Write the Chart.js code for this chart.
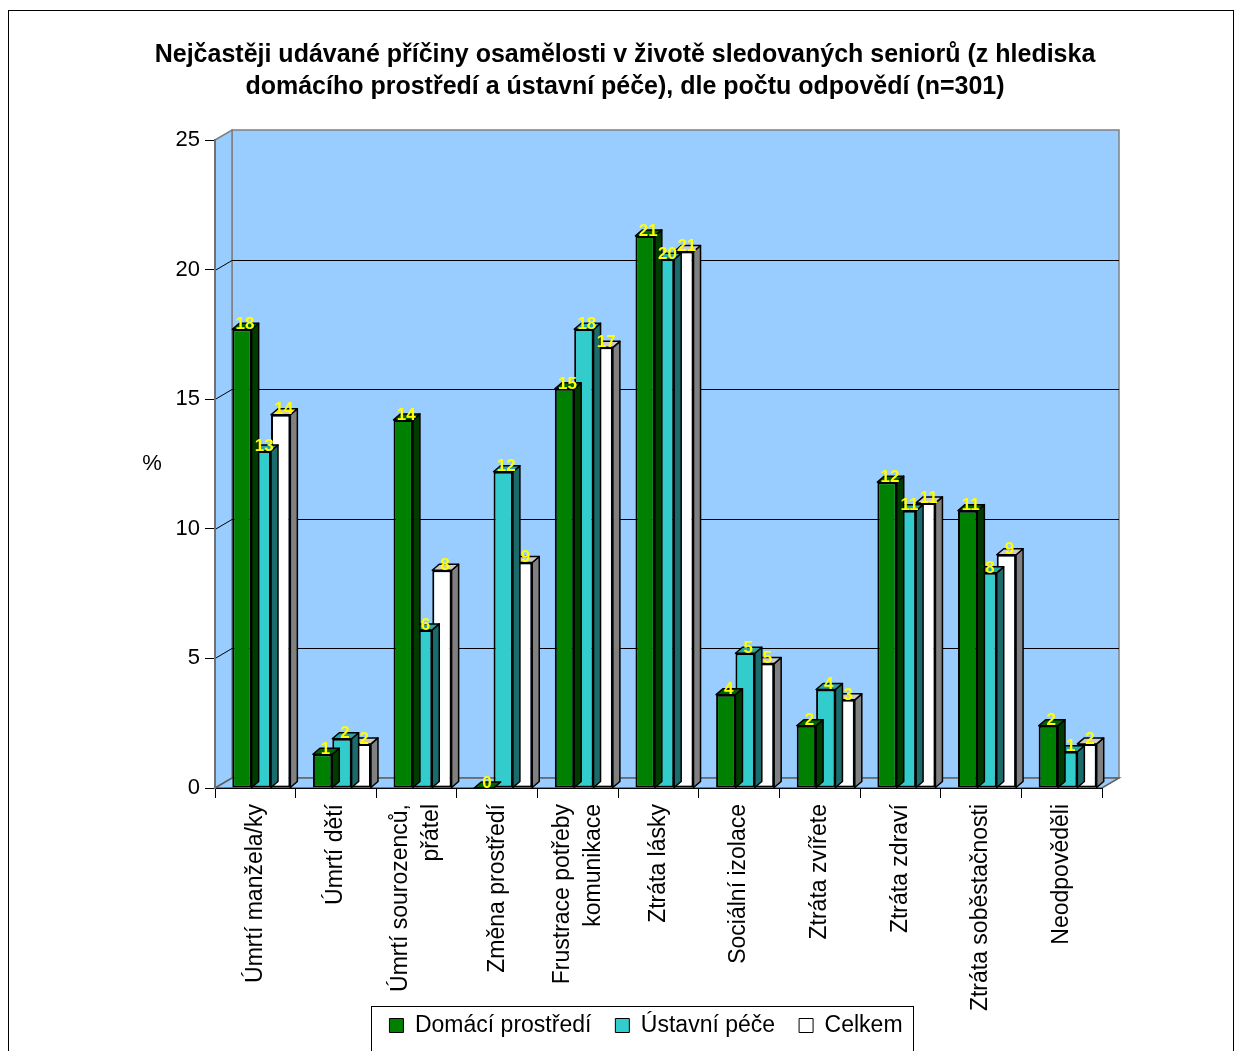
<!DOCTYPE html>
<html lang="cs">
<head>
<meta charset="utf-8">
<title>Příčiny osamělosti seniorů</title>
<script src="https://cdn.jsdelivr.net/npm/chart.js@4.4.1/dist/chart.umd.min.js"></script>
<style>
  html, body { margin: 0; padding: 0; background: #fff; overflow: hidden; }
  #wrap { width: 1236px; height: 1051px; }
</style>
</head>
<body>
<div id="wrap"><canvas id="chart"></canvas></div>
<script>
const categories = [
    'Úmrtí manžela/ky',
    'Úmrtí dětí',
    ['Úmrtí sourozenců,', 'přátel'],
    'Změna prostředí',
    ['Frustrace potřeby', 'komunikace'],
    'Ztráta lásky',
    'Sociální izolace',
    'Ztráta zvířete',
    'Ztráta zdraví',
    'Ztráta soběstačnosti',
    'Neodpověděli'
];
const domaci = [17.7, 1.3, 14.2, 0, 15.4, 21.3, 3.6, 2.4, 11.8, 10.7, 2.4];
const ustavni = [13.0, 1.9, 6.1, 12.2, 17.7, 20.4, 5.2, 3.8, 10.7, 8.3, 1.4];
const celkem = [14.4, 1.7, 8.4, 8.7, 17.0, 20.7, 4.8, 3.4, 11.0, 9.0, 1.7];
const seriesNames = ['Domácí prostředí', 'Ústavní péče', 'Celkem'];
const yMax = 25;
const yStep = 5;

const font = '"Liberation Sans", Arial, sans-serif';
const wallBlue = '#99ccff';
// front / top / side colours of the fake 3d bars
const faces = [
    { front: '#008000', top: '#006400', side: '#003c00' },
    { front: '#33cccc', top: '#29a3a3', side: '#1a6b6b' },
    { front: '#ffffff', top: '#cccccc', side: '#808080' }
];
const wall = { dx: 17, dy: -10 };
const box = { dx: 7, dy: -6 };

const frame3d = {
    id: 'frame3d',
    afterLayout(chart) {
        // legend sits a bit right of centre in the original
        chart.legend.left += 21;
        chart.legend.right += 21;
        // let the long rotated labels run down past the legend top
        chart.scales.x.bottom = chart.height;
    },
    afterDatasetsUpdate(chart) {
        // bars stand in the middle of the floor depth
        chart.data.datasets.forEach((ds, i) => {
            chart.getDatasetMeta(i).data.forEach(bar => { bar.x += 6; });
        });
    },
    beforeDraw(chart) {
        const { ctx, chartArea: a, scales: { y } } = chart;
        ctx.save();
        ctx.fillStyle = wallBlue;
        ctx.strokeStyle = '#808080';
        ctx.lineWidth = 1.5;
        // back wall
        ctx.fillRect(a.left + wall.dx, a.top + wall.dy, a.right - a.left, a.bottom - a.top);
        ctx.strokeRect(a.left + wall.dx, a.top + wall.dy, a.right - a.left, a.bottom - a.top);
        // side wall
        ctx.beginPath();
        ctx.moveTo(a.left, a.top);
        ctx.lineTo(a.left + wall.dx, a.top + wall.dy);
        ctx.lineTo(a.left + wall.dx, a.bottom + wall.dy);
        ctx.lineTo(a.left, a.bottom);
        ctx.closePath();
        ctx.fill();
        ctx.stroke();
        // floor
        ctx.beginPath();
        ctx.moveTo(a.left, a.bottom);
        ctx.lineTo(a.left + wall.dx, a.bottom + wall.dy);
        ctx.lineTo(a.right + wall.dx, a.bottom + wall.dy);
        ctx.lineTo(a.right, a.bottom);
        ctx.closePath();
        ctx.fill();
        ctx.strokeStyle = '#606060';
        ctx.stroke();
        // grid lines on the walls
        ctx.strokeStyle = '#000';
        ctx.lineWidth = 1;
        for (let v = yStep; v < yMax; v += yStep) {
            const py = Math.round(y.getPixelForValue(v)) + 0.5;
            ctx.beginPath();
            ctx.moveTo(a.left, py);
            ctx.lineTo(a.left + wall.dx, py + wall.dy);
            ctx.lineTo(a.right + wall.dx, py + wall.dy);
            ctx.stroke();
        }
        ctx.restore();

        // two-line category labels are centred on the category
        const xs = chart.scales.x;
        if (typeof xs._computeLabelItems === 'function') {
            const items = xs._computeLabelItems(a);
            items.forEach(it => {
                if (Array.isArray(it.label) && it.label.length > 1) {
                    it.options.translation[0] -= it.font.lineHeight * (it.label.length - 1) / 2;
                }
            });
            xs._labelItems = items;
        }
    },
    beforeDatasetDraw(chart, args) {
        const ctx = chart.ctx;
        const f = faces[args.index];
        ctx.save();
        ctx.strokeStyle = '#000';
        ctx.lineWidth = 1.5;
        ctx.lineJoin = 'round';
        args.meta.data.forEach(bar => {
            const { x, y, base, width } = bar.getProps(['x', 'y', 'base', 'width'], true);
            const l = x - width / 2, r = x + width / 2;
            ctx.beginPath();
            ctx.moveTo(r, y);
            ctx.lineTo(r + box.dx, y + box.dy);
            ctx.lineTo(r + box.dx, base + box.dy);
            ctx.lineTo(r, base);
            ctx.closePath();
            ctx.fillStyle = f.side;
            ctx.fill();
            ctx.stroke();
            ctx.beginPath();
            ctx.moveTo(l, y);
            ctx.lineTo(l + box.dx, y + box.dy);
            ctx.lineTo(r + box.dx, y + box.dy);
            ctx.lineTo(r, y);
            ctx.closePath();
            ctx.fillStyle = f.top;
            ctx.fill();
            ctx.stroke();
        });
        ctx.restore();
    },
    afterDatasetsDraw(chart) {
        const ctx = chart.ctx;
        ctx.save();
        ctx.font = 'bold 17px ' + font;
        ctx.fillStyle = '#ffff00';
        ctx.textAlign = 'center';
        ctx.textBaseline = 'middle';
        chart.data.datasets.forEach((ds, i) => {
            chart.getDatasetMeta(i).data.forEach((bar, j) => {
                ctx.fillText(String(Math.round(ds.data[j])), bar.x + 3, bar.y - 5);
            });
        });
        ctx.restore();
    },
    afterDraw(chart) {
        const { ctx, chartArea: a } = chart;
        ctx.save();
        // % axis name
        ctx.font = '22px ' + font;
        ctx.fillStyle = '#000';
        ctx.textAlign = 'center';
        ctx.textBaseline = 'middle';
        ctx.fillText('%', a.left - 63, (a.top + a.bottom) / 2);
        // legend frame
        const hb = chart.legend.legendHitBoxes;
        if (hb && hb.length) {
            const last = hb[hb.length - 1];
            const x0 = hb[0].left - 18;
            const x1 = last.left + last.width + 11;
            ctx.strokeStyle = '#000';
            ctx.lineWidth = 1;
            ctx.strokeRect(Math.round(x0) + 0.5, Math.round(hb[0].top - 8) + 0.5, Math.round(x1 - x0), 80);
        }
        // outer chart border
        ctx.strokeRect(8.5, 10.5, 1225, 1100);
        ctx.restore();
    }
};

const datasets = [domaci, ustavni, celkem].map((values, i) => ({
    label: seriesNames[i],
    data: values,
    backgroundColor: faces[i].front,
    borderColor: '#000',
    borderWidth: 2,
    borderSkipped: false,
    categoryPercentage: 0.72,
    barPercentage: 1
}));

new Chart(document.getElementById('chart'), {
    type: 'bar',
    data: { labels: categories, datasets: datasets },
    plugins: [frame3d],
    options: {
        responsive: true,
        maintainAspectRatio: false,
        animation: false,
        layout: { padding: { left: 14, right: 0, top: 0, bottom: 4 } },
        scales: {
            x: {
                grid: { drawOnChartArea: false, drawTicks: true, tickLength: 10, color: '#000', offset: true },
                border: { color: '#000', width: 1 },
                ticks: {
                    color: '#000',
                    font: { family: font, size: 23, lineHeight: 1.35 },
                    padding: 6,
                    minRotation: 90,
                    maxRotation: 90,
                    autoSkip: false
                },
                afterFit(s) { s.height = 202; }
            },
            y: {
                min: 0,
                max: yMax,
                grid: { drawOnChartArea: false, tickLength: 10, color: '#000' },
                border: { color: '#707070', width: 2 },
                ticks: {
                    stepSize: yStep,
                    color: '#000',
                    padding: 5,
                    font: { family: font, size: 22 }
                },
                afterFit(s) { s.width = 201; }
            },
            y2: {
                position: 'right',
                grid: { display: false },
                border: { display: false },
                ticks: { display: false },
                afterFit(s) { s.width = 134; }
            }
        },
        plugins: {
            title: {
                display: true,
                text: [
                    'Nejčastěji udávané příčiny osamělosti v životě sledovaných seniorů (z hlediska',
                    'domácího prostředí a ústavní péče), dle počtu odpovědí (n=301)'
                ],
                color: '#000',
                font: { family: font, size: 25, weight: 'bold', lineHeight: 1.28 },
                padding: { top: 39, bottom: 37 }
            },
            legend: {
                position: 'bottom',
                labels: {
                    color: '#000',
                    font: { family: font, size: 23 },
                    boxWidth: 14,
                    boxHeight: 14,
                    padding: 24,
                    generateLabels(chart) {
                        return Chart.defaults.plugins.legend.labels.generateLabels(chart)
                            .map(item => Object.assign(item, { lineWidth: 1, strokeStyle: '#000' }));
                    }
                }
            },
            tooltip: { enabled: false }
        }
    }
});
</script>
</body>
</html>
